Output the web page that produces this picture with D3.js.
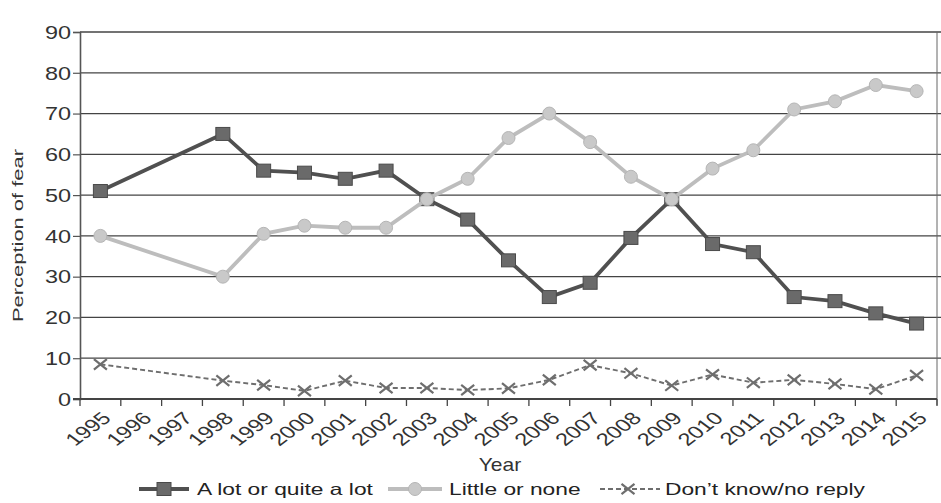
<!DOCTYPE html>
<html><head><meta charset="utf-8">
<script src="https://cdn.jsdelivr.net/npm/d3@7"></script>
<style>html,body{margin:0;padding:0;background:#fff;} svg{display:block;font-family:"Liberation Sans",Arial,sans-serif;}</style>
</head><body><svg id="c" width="941" height="503"></svg>
<script>
const yearLabels = ["1995","1996","1997","1998","1999","2000","2001","2002","2003","2004","2005","2006","2007","2008","2009","2010","2011","2012","2013","2014","2015"];
const pointYears = ["1995","1998","1999","2000","2001","2002","2003","2004","2005","2006","2007","2008","2009","2010","2011","2012","2013","2014","2015"];
const aLot       = [51, 65, 56, 55.5, 54, 56, 49, 44, 34, 25, 28.5, 39.5, 49, 38, 36, 25, 24, 21, 18.5];
const littleNone = [40, 30, 40.5, 42.5, 42, 42, 49, 54, 64, 70, 63, 54.5, 49, 56.5, 61, 71, 73, 77, 75.5];
const dontKnow   = [8.5, 4.5, 3.4, 2, 4.5, 2.7, 2.7, 2.2, 2.6, 4.7, 8.3, 6.3, 3.3, 6, 4, 4.7, 3.7, 2.4, 5.8];
const yTicks = [0,10,20,30,40,50,60,70,80,90];
const seriesNames = ["A lot or quite a lot","Little or none","Don\u2019t know/no reply"];
const xTitle = "Year";
const yTitle = "Perception of fear";

const m = {left:80, right:937, top:32, bottom:399};
const SX = 1.34;
const svg = d3.select("#c");
const x = d3.scaleBand().domain(yearLabels).range([m.left, m.right]).padding(0);
const y = d3.scaleLinear().domain([0,90]).range([m.bottom, m.top]);
const cx = d => x(d) + x.bandwidth()/2;

// gridlines
svg.append("g").selectAll("line").data(yTicks.filter(v=>v>0)).join("line")
  .attr("x1", m.left).attr("x2", m.right+4)
  .attr("y1", d=>y(d)).attr("y2", d=>y(d))
  .attr("stroke","#444").attr("stroke-width",1.3);

// right border
svg.append("line").attr("x1",m.right).attr("x2",m.right)
  .attr("y1",y(90)).attr("y2",y(0)+6).attr("stroke","#666").attr("stroke-width",1);

// y axis
const yAxis = svg.append("g").attr("transform",`translate(${m.left},0)`)
  .call(d3.axisLeft(y).tickValues(yTicks).tickSize(7).tickPadding(3));
yAxis.attr("font-size",null).attr("font-family",null);
yAxis.select(".domain").attr("stroke","#555").attr("stroke-width",1.6);
yAxis.selectAll(".tick line").attr("stroke","#555").attr("stroke-width",1.2);
yAxis.selectAll(".tick text")
  .attr("x", -9/SX).attr("dy","0.36em")
  .attr("transform",`scale(${SX},1)`)
  .attr("font-size",17.5).attr("fill","#333");

// x axis
const xg = svg.append("g");
xg.append("line").attr("x1",m.left-7).attr("x2",m.right)
  .attr("y1",y(0)).attr("y2",y(0)).attr("stroke","#444").attr("stroke-width",1.8);
xg.selectAll("line.tk").data(yearLabels.concat(["end"])).join("line").attr("class","tk")
  .attr("x1", d => d==="end" ? m.right : x(d)).attr("x2", d => d==="end" ? m.right : x(d))
  .attr("y1", y(0)).attr("y2", y(0)+7).attr("stroke","#444").attr("stroke-width",1.3);
xg.selectAll("text").data(yearLabels).join("text")
  .attr("transform", d => `translate(${cx(d)+6},${y(0)+16}) scale(${SX},1) rotate(-45)`)
  .attr("text-anchor","end").attr("dy","0.35em")
  .attr("font-size",17.5).attr("fill","#333").text(d=>d);

// axis titles
svg.append("text").attr("transform",`translate(500,471) scale(1.2,1)`)
  .attr("text-anchor","middle").attr("font-size",17.5).attr("fill","#333").text(xTitle);
svg.append("text").attr("transform","translate(23,235.5) rotate(-90)")
  .attr("text-anchor","middle").attr("font-size",15.5).attr("fill","#333")
  .attr("textLength",173).attr("lengthAdjust","spacingAndGlyphs").text(yTitle);

// series
const mk = vals => pointYears.map((yr,i)=>({yr, v: vals[i]}));
const line = d3.line().x(d=>cx(d.yr)).y(d=>y(d.v));

// don't know
const dk = mk(dontKnow);
svg.append("path").datum(dk).attr("d",line).attr("fill","none")
  .attr("stroke","#6e6e6e").attr("stroke-width",1.9).attr("stroke-dasharray","5,3");
const xMark = (g, px, py, s) => {
  g.append("path").attr("d",`M${px-s},${py-s*0.8}L${px+s},${py+s*0.8}M${px-s},${py+s*0.8}L${px+s},${py-s*0.8}`)
   .attr("stroke","#6e6e6e").attr("stroke-width",2.2).attr("fill","none");
};
const dkg = svg.append("g");
dk.forEach(d => xMark(dkg, cx(d.yr), y(d.v), 6.5));

// a lot
const al = mk(aLot);
svg.append("path").datum(al).attr("d",line).attr("fill","none")
  .attr("stroke","#505050").attr("stroke-width",3.8);
svg.append("g").selectAll("rect").data(al).join("rect")
  .attr("x",d=>cx(d.yr)-7).attr("y",d=>y(d.v)-6.5).attr("width",14).attr("height",13)
  .attr("fill","#6a6a6a").attr("stroke","#4a4a4a").attr("stroke-width",1);

// little or none
const ln = mk(littleNone);
svg.append("path").datum(ln).attr("d",line).attr("fill","none")
  .attr("stroke","#bdbdbd").attr("stroke-width",3.8);
svg.append("g").selectAll("circle").data(ln).join("circle")
  .attr("cx",d=>cx(d.yr)).attr("cy",d=>y(d.v)).attr("r",6.5)
  .attr("fill","#c9c9c9").attr("stroke","#b5b5b5").attr("stroke-width",1);

// legend
const lgY = 489, lgT = 495;
const lg = svg.append("g");
const lgX = [139, 388, 600];
const lgW = [50, 54, 60];
const lgTextX = [197, 449, 665];
lg.append("line").attr("x1",lgX[0]).attr("x2",lgX[0]+lgW[0]).attr("y1",lgY).attr("y2",lgY)
  .attr("stroke","#505050").attr("stroke-width",3.8);
lg.append("rect").attr("x",lgX[0]+lgW[0]/2-7).attr("y",lgY-6.5).attr("width",14).attr("height",13)
  .attr("fill","#6a6a6a").attr("stroke","#4a4a4a");
lg.append("line").attr("x1",lgX[1]).attr("x2",lgX[1]+lgW[1]).attr("y1",lgY).attr("y2",lgY)
  .attr("stroke","#bdbdbd").attr("stroke-width",3.8);
lg.append("circle").attr("cx",lgX[1]+lgW[1]/2).attr("cy",lgY).attr("r",6.5)
  .attr("fill","#c9c9c9").attr("stroke","#b5b5b5");
lg.append("line").attr("x1",lgX[2]).attr("x2",lgX[2]+lgW[2]).attr("y1",lgY).attr("y2",lgY)
  .attr("stroke","#6e6e6e").attr("stroke-width",1.9).attr("stroke-dasharray","5,3");
xMark(lg, lgX[2]+28, lgY, 6.5);
seriesNames.forEach((s,i)=>{
  lg.append("text").attr("transform",`translate(${lgTextX[i]},${lgT}) scale(1.38,1)`)
    .attr("font-size",16.5).attr("fill","#222").text(s);
});
</script></body></html>
